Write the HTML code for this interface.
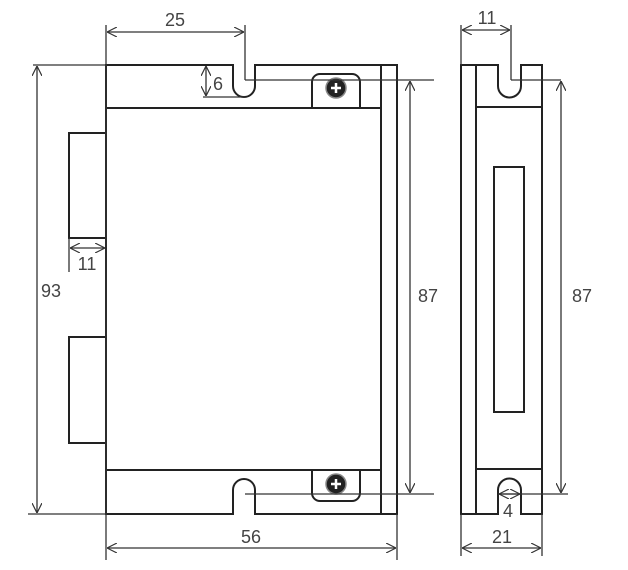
<!DOCTYPE html>
<html><head><meta charset="utf-8"><style>
html,body{margin:0;padding:0;background:#fff;}
svg{display:block;}
text{font-family:"Liberation Sans",sans-serif;font-size:18px;fill:#444;}
</style></head><body>
<svg width="628" height="570" viewBox="0 0 628 570" xmlns="http://www.w3.org/2000/svg">
<defs>
<marker id="a" viewBox="0 0 10 10" refX="10" refY="5" markerWidth="10" markerHeight="10" markerUnits="userSpaceOnUse" orient="auto-start-reverse">
<path d="M0,0 L10,5 L0,10" fill="none" stroke="#333" stroke-width="1.2"/>
</marker>
</defs>
<g fill="none" stroke="#222" stroke-width="2">
<!-- main body -->
<path d="M106,65 H233 V86 A11,11 0 0 0 255,86 V65 H397 V514 H255 V490 A11,11 0 0 0 233,490 V514 H106 Z"/>
<line x1="381" y1="65" x2="381" y2="514"/>
<line x1="106" y1="108" x2="381" y2="108"/>
<line x1="106" y1="470" x2="381" y2="470"/>
<path d="M312,108 V82 A8,8 0 0 1 320,74 H352 A8,8 0 0 1 360,82 V108"/>
<path d="M312,470 V493 A8,8 0 0 0 320,501 H352 A8,8 0 0 0 360,493 V470"/>
<!-- connectors -->
<path d="M106,133 H69 V238 H106"/>
<path d="M106,337 H69 V443 H106"/>
<!-- side view -->
<path d="M461,65 H498 V86 A11.5,11.5 0 0 0 521,86 V65 H542 V514 H521 V490 A11.5,11.5 0 0 0 498,490 V514 H461 Z"/>
<line x1="476" y1="65" x2="476" y2="514"/>
<line x1="476" y1="107" x2="542" y2="107"/>
<line x1="476" y1="469" x2="542" y2="469"/>
<rect x="494" y="167" width="30" height="245"/>
</g>
<!-- screws -->
<circle cx="336" cy="88" r="10" fill="#222" stroke="#888" stroke-width="1.5"/>
<circle cx="336" cy="484" r="10" fill="#222" stroke="#888" stroke-width="1.5"/>
<g stroke="#fff" stroke-width="2.5"><line x1="331" y1="88" x2="341" y2="88"/><line x1="336" y1="83" x2="336" y2="93"/>
<line x1="331" y1="484" x2="341" y2="484"/><line x1="336" y1="479" x2="336" y2="489"/></g>
<!-- dims -->
<g fill="none" stroke="#333" stroke-width="1.3">
<line x1="106" y1="25" x2="106" y2="560"/>
<line x1="397" y1="514" x2="397" y2="560"/>
<line x1="245" y1="25" x2="245" y2="80"/>
<line x1="107" y1="32" x2="244" y2="32" marker-start="url(#a)" marker-end="url(#a)"/>
<line x1="245" y1="80" x2="434" y2="80"/>
<line x1="245" y1="494" x2="434" y2="494"/>
<line x1="410" y1="81" x2="410" y2="493" marker-start="url(#a)" marker-end="url(#a)"/>
<line x1="33" y1="65" x2="106" y2="65"/>
<line x1="28" y1="514" x2="106" y2="514"/>
<line x1="37" y1="66" x2="37" y2="513" marker-start="url(#a)" marker-end="url(#a)"/>
<line x1="203" y1="97" x2="245" y2="97"/>
<line x1="206" y1="66" x2="206" y2="96" marker-start="url(#a)" marker-end="url(#a)"/>
<line x1="69" y1="238" x2="69" y2="272"/>
<line x1="70" y1="248" x2="105" y2="248" marker-start="url(#a)" marker-end="url(#a)"/>
<line x1="107" y1="548" x2="396" y2="548" marker-start="url(#a)" marker-end="url(#a)"/>
<line x1="461" y1="25" x2="461" y2="65"/>
<line x1="511" y1="25" x2="511" y2="80"/>
<line x1="462" y1="30" x2="510" y2="30" marker-start="url(#a)" marker-end="url(#a)"/>
<line x1="511" y1="80" x2="561" y2="80"/>
<line x1="498" y1="494" x2="568" y2="494"/>
<line x1="561" y1="81" x2="561" y2="493" marker-start="url(#a)" marker-end="url(#a)"/>
<line x1="499" y1="494" x2="520" y2="494" marker-start="url(#a)" marker-end="url(#a)"/>
<line x1="461" y1="514" x2="461" y2="556"/>
<line x1="542" y1="514" x2="542" y2="556"/>
<line x1="462" y1="548" x2="541" y2="548" marker-start="url(#a)" marker-end="url(#a)"/>
</g>
<text x="175" y="26" text-anchor="middle">25</text>
<text x="218" y="90" text-anchor="middle">6</text>
<text x="87" y="270" text-anchor="middle">11</text>
<text x="51" y="297" text-anchor="middle">93</text>
<text x="428" y="302" text-anchor="middle">87</text>
<text x="582" y="302" text-anchor="middle">87</text>
<text x="487" y="24" text-anchor="middle">11</text>
<text x="251" y="543" text-anchor="middle">56</text>
<text x="508" y="517" text-anchor="middle">4</text>
<text x="502" y="543" text-anchor="middle">21</text>
</svg>
</body></html>
